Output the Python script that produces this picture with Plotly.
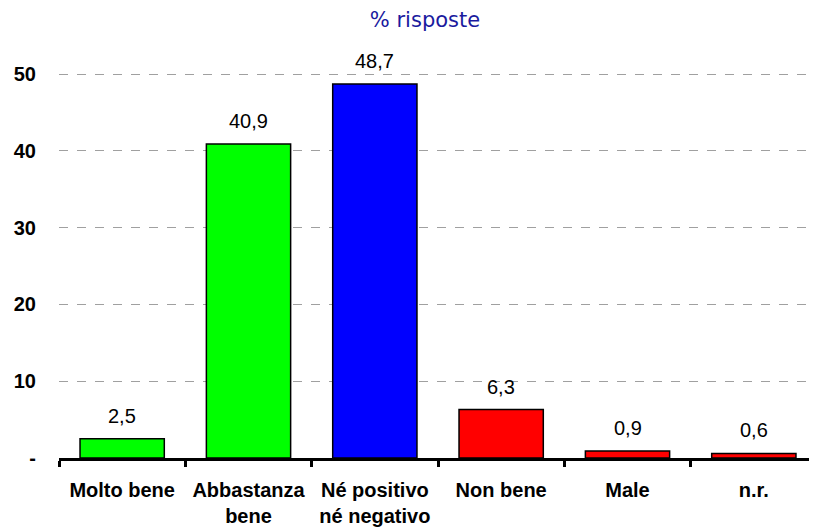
import plotly.graph_objects as go

# categories and percentages
categories = ['Molto bene', 'Abbastanza<br>bene', 'Né positivo<br>né negativo', 'Non bene', 'Male', 'n.r.']
values = [2.5, 40.9, 48.7, 6.3, 0.9, 0.6]
value_labels = ['2,5', '40,9', '48,7', '6,3', '0,9', '0,6']
bar_colors = ['#00FF00', '#00FF00', '#0000FF', '#FF0000', '#FF0000', '#FF0000']
y_ticks = [0, 10, 20, 30, 40, 50]
y_tick_labels = ['-', '10', '20', '30', '40', '50']

bars = go.Bar(x=categories, y=values,
              marker=dict(color=bar_colors, line=dict(color='black', width=1.5)),
              hoverinfo='x+y')

# page body adds an 8px margin, so the figure is a bit smaller than the window
layout = go.Layout(
    width=809, height=521,
    margin=dict(l=51, r=0, t=28, b=71),
    paper_bgcolor='white', plot_bgcolor='white',
    showlegend=False,
    bargap=0.333,
    font=dict(family='Arial, Liberation Sans', color='black'),
    title=dict(text='% risposte', x=417 / 809, xanchor='center', xref='container',
               y=1 - 12 / 521, yanchor='middle', yref='container',
               font=dict(family='DejaVu Sans', size=21, color='#1a1a9e')),
    xaxis=dict(showline=True, linecolor='black', linewidth=3,
               ticks='outside', tickson='boundaries', ticklen=6, tickwidth=3, tickcolor='black',
               tickfont=dict(size=20, weight='bold'), ticklabelstandoff=12,
               showgrid=False, zeroline=False),
    yaxis=dict(range=[0, 54.95], tickvals=y_ticks, ticktext=y_tick_labels,
               tickfont=dict(size=20, weight='bold'), ticklabelstandoff=22,
               showgrid=True, gridcolor='#a0a0a0', griddash='dash', gridwidth=1,
               zeroline=False, showline=False, ticks=''),
)

fig = go.Figure(data=[bars], layout=layout)

# value labels above bars
for cat, val, lab in zip(categories, values, value_labels):
    fig.add_annotation(x=cat, y=val, text=lab, showarrow=False,
                       yanchor='bottom', yshift=10,
                       font=dict(size=20, family='Arial, Liberation Sans', color='black'))

fig.write_html('out.html')
